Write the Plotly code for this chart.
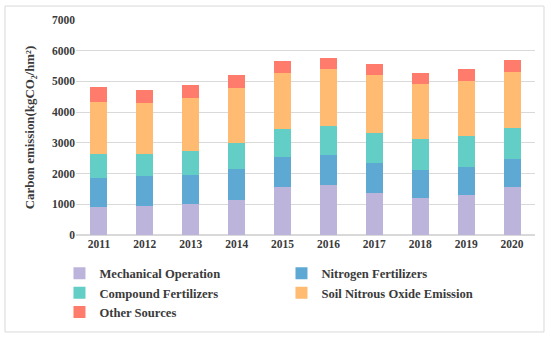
import plotly.graph_objects as go

years = ["2011", "2012", "2013", "2014", "2015", "2016", "2017", "2018", "2019", "2020"]
mechanical = [900, 955, 1010, 1140, 1555, 1620, 1355, 1205, 1315, 1565]
nitrogen = [965, 965, 955, 1010, 985, 995, 1000, 920, 910, 920]
compound = [760, 715, 770, 835, 900, 935, 955, 990, 1000, 1010]
soil_n2o = [1695, 1670, 1715, 1810, 1825, 1845, 1910, 1790, 1800, 1810]
other = [510, 400, 435, 405, 390, 380, 360, 380, 370, 390]

series = [
    ("Mechanical Operation", mechanical, "#BDB4DC"),
    ("Nitrogen Fertilizers", nitrogen, "#5EA9D3"),
    ("Compound Fertilizers", compound, "#62CEC5"),
    ("Soil Nitrous Oxide Emission", soil_n2o, "#FFBB72"),
    ("Other Sources", other, "#FF7C6D"),
]

FONT = "Liberation Serif"
TXT = "#3A3A3A"
fig = go.Figure()
for name, vals, col in series:
    fig.add_trace(go.Bar(x=years, y=vals, name=name, marker=dict(color=col, line=dict(width=0))))

fig.update_layout(
    barmode="stack",
    bargap=0.63,
    width=550, height=338,
    margin=dict(l=76, r=15, t=20, b=103, autoexpand=False),
    paper_bgcolor="white", plot_bgcolor="white",
    font=dict(family=FONT, color=TXT, size=12),
    legend=dict(
        orientation="h", x=-0.036, xanchor="left", y=-0.11, yanchor="top",
        entrywidth=177, entrywidthmode="pixels",
        font=dict(family=FONT, size=12.6, color=TXT, weight="bold"),
        itemwidth=30, tracegroupgap=0, traceorder="normal",
        bgcolor="rgba(0,0,0,0)",
    ),
    xaxis=dict(showgrid=False, showline=False, ticks="",
               tickfont=dict(family=FONT, size=11.5, color=TXT, weight="bold")),
    yaxis=dict(range=[0, 7000], dtick=1000, showgrid=True, gridcolor="#D9D9D9", gridwidth=1,
               zeroline=True, zerolinecolor="#D9D9D9", showline=False, ticks="",
               tickfont=dict(family=FONT, size=11.5, color=TXT, weight="bold"),
               title=dict(text="Carbon emission(kgCO₂/hm²)", standoff=14,
                          font=dict(family=FONT, size=12.9, color=TXT, weight="bold"))),
    shapes=[dict(type="rect", xref="paper", yref="paper",
                 x0=-0.1547, x1=1.0196, y0=-0.451, y1=1.065,
                 line=dict(color="#D9D9D9", width=1), fillcolor="rgba(0,0,0,0)", layer="below")],
)

fig.write_html("out.html", config={"displayModeBar": False},
               post_script="document.body.style.margin='0';")
